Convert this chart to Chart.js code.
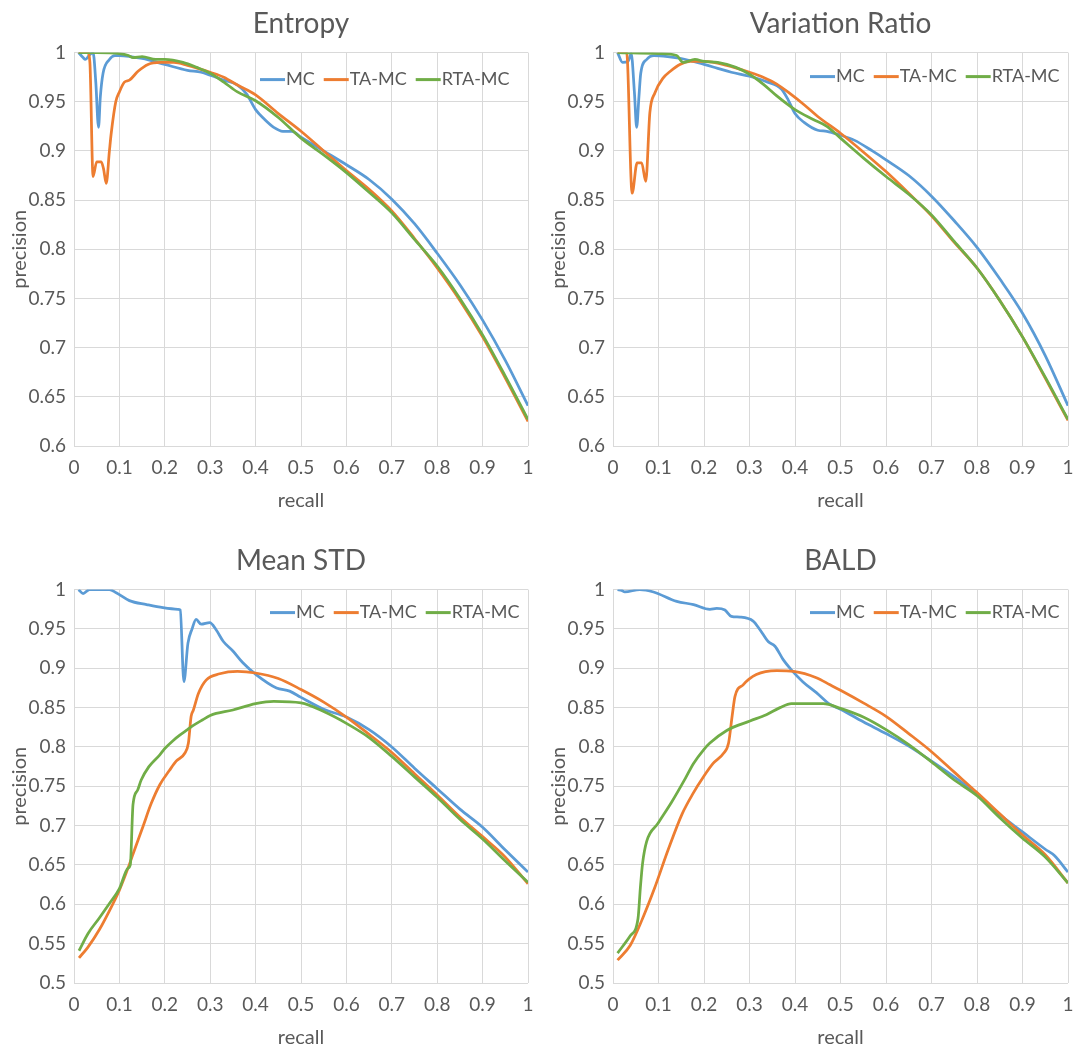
<!DOCTYPE html>
<html>
<head>
<meta charset="utf-8">
<title>precision / recall</title>
<script src="https://cdn.jsdelivr.net/npm/chart.js@4.4.1/dist/chart.umd.min.js"></script>
<style>
  body { margin: 0; background: #fff; }
  .panel { position: absolute; width: 539px; height: 516px; }
</style>
</head>
<body>
<div class="panel" style="left:0;top:0"><canvas id="chartEntropy"></canvas></div>
<div class="panel" style="left:539px;top:0;width:540px"><canvas id="chartVariation"></canvas></div>
<div class="panel" style="left:0;top:537px"><canvas id="chartMeanStd"></canvas></div>
<div class="panel" style="left:539px;top:537px;width:540px"><canvas id="chartBald"></canvas></div>
<script>
// series names + colours (same in every panel)
var seriesNames = ["MC", "TA-MC", "RTA-MC"];
var seriesColors = ["#5B9BD5", "#ED7D31", "#70AD47"];

// ---- Entropy ----
var entropyMcRecall = [0.01,0.02,0.025,0.035,0.042,0.048,0.054,0.058,0.064,0.078,0.09,0.1,0.15,0.2,0.25,0.28,0.3,0.33,0.36,0.38,0.4,0.42,0.44,0.46,0.48,0.5,0.55,0.6,0.65,0.7,0.75,0.8,0.85,0.9,0.95,1.0];
var entropyMcPrecision = [1.0,0.995,0.993,0.998,1.0,0.97,0.924,0.955,0.979,0.993,0.997,0.997,0.994,0.988,0.982,0.98,0.977,0.972,0.967,0.958,0.942,0.932,0.924,0.92,0.92,0.914,0.9,0.886,0.871,0.851,0.826,0.796,0.764,0.728,0.687,0.641];
var entropyTaRecall = [0.01,0.03,0.035,0.042,0.05,0.06,0.065,0.071,0.078,0.082,0.092,0.1,0.111,0.122,0.141,0.163,0.19,0.22,0.25,0.3,0.33,0.36,0.4,0.45,0.5,0.55,0.6,0.65,0.7,0.75,0.8,0.85,0.9,0.95,1.0];
var entropyTaPrecision = [1.0,1.0,0.99,0.874,0.889,0.889,0.882,0.867,0.9,0.918,0.95,0.96,0.97,0.972,0.981,0.988,0.99,0.99,0.987,0.98,0.975,0.967,0.957,0.938,0.92,0.9,0.88,0.861,0.839,0.811,0.781,0.748,0.711,0.669,0.625];
var entropyRtaRecall = [0.01,0.05,0.1,0.12,0.13,0.15,0.18,0.2,0.24,0.27,0.3,0.33,0.36,0.4,0.45,0.5,0.55,0.6,0.65,0.7,0.75,0.8,0.85,0.9,0.95,1.0];
var entropyRtaPrecision = [1.0,1.0,0.999,0.997,0.995,0.996,0.993,0.993,0.99,0.985,0.979,0.97,0.96,0.951,0.934,0.913,0.896,0.878,0.858,0.837,0.81,0.783,0.75,0.713,0.671,0.627];

// ---- Variation Ratio ----
var variationMcRecall = [0.01,0.021,0.033,0.04,0.047,0.052,0.057,0.061,0.074,0.09,0.12,0.15,0.2,0.23,0.26,0.3,0.34,0.37,0.385,0.4,0.42,0.45,0.47,0.5,0.53,0.57,0.6,0.65,0.7,0.75,0.8,0.85,0.9,0.95,1.0];
var variationMcPrecision = [1.0,0.99,0.991,0.999,0.96,0.924,0.955,0.979,0.993,0.997,0.996,0.994,0.988,0.984,0.98,0.976,0.97,0.963,0.952,0.938,0.929,0.921,0.92,0.916,0.911,0.9,0.891,0.875,0.854,0.829,0.802,0.77,0.735,0.692,0.641];
var variationTaRecall = [0.01,0.03,0.042,0.053,0.063,0.072,0.081,0.092,0.11,0.126,0.147,0.17,0.2,0.25,0.3,0.33,0.36,0.39,0.42,0.45,0.5,0.55,0.6,0.65,0.7,0.75,0.8,0.85,0.9,0.95,1.0];
var variationTaPrecision = [1.0,1.0,0.857,0.888,0.888,0.869,0.939,0.959,0.974,0.981,0.988,0.991,0.991,0.987,0.98,0.975,0.968,0.958,0.947,0.935,0.918,0.899,0.879,0.857,0.834,0.807,0.781,0.748,0.711,0.669,0.626];
var variationRtaRecall = [0.01,0.1,0.14,0.154,0.18,0.2,0.23,0.27,0.3,0.33,0.36,0.4,0.44,0.47,0.5,0.55,0.6,0.65,0.7,0.75,0.8,0.85,0.9,0.95,1.0];
var variationRtaPrecision = [1.0,0.999,0.997,0.99,0.993,0.991,0.99,0.985,0.978,0.968,0.956,0.942,0.932,0.925,0.913,0.893,0.874,0.856,0.835,0.808,0.781,0.748,0.711,0.67,0.627];

// ---- Mean STD ----
var meanStdMcRecall = [0.01,0.02,0.034,0.06,0.078,0.093,0.122,0.16,0.196,0.229,0.234,0.242,0.251,0.26,0.269,0.28,0.299,0.313,0.329,0.35,0.372,0.401,0.446,0.475,0.5,0.55,0.6,0.65,0.7,0.75,0.8,0.85,0.9,0.95,1.0];
var meanStdMcPrecision = [1.0,0.995,1.0,1.0,1.0,0.996,0.986,0.981,0.977,0.975,0.974,0.883,0.932,0.95,0.962,0.956,0.958,0.949,0.934,0.922,0.907,0.892,0.875,0.871,0.863,0.848,0.838,0.822,0.8,0.773,0.747,0.721,0.698,0.669,0.641];
var meanStdTaRecall = [0.011,0.03,0.056,0.086,0.1,0.119,0.135,0.152,0.17,0.189,0.21,0.225,0.244,0.252,0.258,0.263,0.274,0.291,0.321,0.36,0.4,0.45,0.5,0.55,0.6,0.65,0.7,0.75,0.8,0.85,0.9,0.95,1.0];
var meanStdTaPrecision = [0.532,0.545,0.568,0.601,0.618,0.646,0.672,0.699,0.728,0.752,0.77,0.782,0.792,0.805,0.839,0.847,0.868,0.885,0.893,0.896,0.894,0.887,0.873,0.857,0.838,0.816,0.793,0.766,0.739,0.711,0.686,0.66,0.626];
var meanStdRtaRecall = [0.011,0.031,0.055,0.078,0.1,0.119,0.124,0.13,0.14,0.148,0.165,0.189,0.2,0.218,0.233,0.25,0.262,0.285,0.3,0.35,0.4,0.44,0.5,0.55,0.6,0.65,0.7,0.75,0.8,0.85,0.9,0.95,1.0];
var meanStdRtaPrecision = [0.541,0.563,0.582,0.601,0.62,0.646,0.65,0.727,0.745,0.758,0.775,0.79,0.798,0.808,0.815,0.822,0.827,0.835,0.84,0.847,0.855,0.858,0.856,0.845,0.83,0.812,0.788,0.762,0.736,0.708,0.683,0.655,0.628];

// ---- BALD ----
var baldMcRecall = [0.01,0.019,0.026,0.059,0.089,0.14,0.177,0.213,0.228,0.246,0.26,0.279,0.308,0.323,0.341,0.356,0.374,0.392,0.417,0.447,0.477,0.5,0.55,0.6,0.65,0.7,0.75,0.8,0.85,0.9,0.95,0.97,1.0];
var baldMcPrecision = [1.0,0.999,0.997,1.0,0.997,0.985,0.981,0.975,0.976,0.974,0.966,0.965,0.96,0.949,0.934,0.928,0.911,0.898,0.883,0.869,0.854,0.848,0.832,0.817,0.801,0.782,0.762,0.74,0.714,0.692,0.67,0.662,0.641];
var baldTaRecall = [0.01,0.038,0.065,0.091,0.121,0.152,0.175,0.2,0.22,0.243,0.254,0.262,0.268,0.286,0.315,0.36,0.397,0.447,0.477,0.5,0.55,0.6,0.65,0.7,0.75,0.8,0.85,0.9,0.95,1.0];
var baldTaPrecision = [0.529,0.548,0.582,0.62,0.669,0.715,0.74,0.763,0.779,0.792,0.805,0.84,0.864,0.879,0.892,0.897,0.896,0.888,0.879,0.872,0.856,0.839,0.817,0.794,0.768,0.742,0.715,0.688,0.663,0.627];
var baldRtaRecall = [0.01,0.038,0.055,0.06,0.065,0.074,0.099,0.129,0.159,0.177,0.2,0.213,0.25,0.301,0.337,0.367,0.392,0.462,0.5,0.55,0.6,0.65,0.7,0.75,0.8,0.85,0.9,0.95,1.0];
var baldRtaPrecision = [0.538,0.56,0.582,0.62,0.652,0.68,0.703,0.73,0.76,0.779,0.797,0.805,0.821,0.833,0.841,0.85,0.855,0.855,0.849,0.838,0.822,0.803,0.781,0.758,0.738,0.71,0.684,0.66,0.627];

var textColor = "#595959";
var gridColor = "#d9d9d9";
var fontFamily = "Lato, 'Open Sans', sans-serif";

// legend drawn inside the plot, like the excel one
var insideLegend = {
  id: "insideLegend",
  afterDatasetsDraw: function (chart, args, opts) {
    var ctx = chart.ctx;
    var x = chart.chartArea.left + opts.offsetX;
    var y = chart.chartArea.top + opts.offsetY;
    ctx.save();
    ctx.font = "18px " + fontFamily;
    ctx.textBaseline = "middle";
    chart.data.datasets.forEach(function (ds) {
      ctx.strokeStyle = ds.borderColor;
      ctx.lineWidth = 3;
      ctx.beginPath();
      ctx.moveTo(x, y);
      ctx.lineTo(x + 25, y);
      ctx.stroke();
      x += 26;
      ctx.fillStyle = textColor;
      ctx.fillText(ds.label, x, y);
      x += ctx.measureText(ds.label).width + 9;
    });
    ctx.restore();
  },
};

function toPoints(xs, ys) {
  var pts = [];
  for (var i = 0; i < xs.length; i++) pts.push({ x: xs[i], y: ys[i] });
  return pts;
}

// excel style: 1, 0.95, 0.9 ... no trailing zeros
function shortLabel(value) {
  return String(Number(value.toFixed(2)));
}

function drawPanel(canvasId, title, yMin, series, legendX, legendY) {
  var datasets = [];
  for (var i = 0; i < series.length; i++) {
    datasets.push({
      label: seriesNames[i],
      data: toPoints(series[i][0], series[i][1]),
      borderColor: seriesColors[i],
      backgroundColor: seriesColors[i],
      borderWidth: 2.75,
      pointRadius: 0,
      cubicInterpolationMode: "monotone",
      order: 3 - i, // RTA-MC drawn last, on top
    });
  }
  return new Chart(document.getElementById(canvasId), {
    type: "line",
    data: { datasets: datasets },
    plugins: [insideLegend],
    options: {
      responsive: true,
      maintainAspectRatio: false,
      animation: false,
      layout: { padding: { left: 0, right: 11, top: 0, bottom: 0 } },
      plugins: {
        legend: { display: false },
        tooltip: { enabled: false },
        title: {
          display: true,
          text: title,
          fullSize: false,
          color: textColor,
          font: { family: fontFamily, size: 28, weight: "normal" },
          padding: { top: 7, bottom: 12 },
        },
        insideLegend: { offsetX: legendX, offsetY: legendY },
      },
      scales: {
        x: {
          type: "linear",
          min: 0,
          max: 1,
          ticks: {
            stepSize: 0.1,
            color: textColor,
            padding: 10,
            font: { family: fontFamily, size: 19 },
            callback: shortLabel,
          },
          grid: { color: gridColor, drawTicks: false },
          border: { display: false },
          title: {
            display: true,
            text: "recall",
            color: textColor,
            font: { family: fontFamily, size: 20 },
            padding: { top: 0, bottom: 3 },
          },
          afterFit: function (scale) {
            scale.height = 70;
            // don't let the end labels shrink the plot, layout padding handles it
            scale.paddingLeft = 0;
            scale.paddingRight = 0;
          },
        },
        y: {
          min: yMin,
          max: 1,
          ticks: {
            stepSize: 0.05,
            color: textColor,
            padding: 8,
            font: { family: fontFamily, size: 19 },
            callback: shortLabel,
          },
          grid: { color: gridColor, drawTicks: false },
          border: { display: false },
          title: {
            display: true,
            text: "precision",
            color: textColor,
            font: { family: fontFamily, size: 20 },
            padding: { top: 8, bottom: 0 },
          },
          afterFit: function (scale) { scale.width = 74; },
        },
      },
    },
  });
}

drawPanel("chartEntropy", "Entropy", 0.6, [
  [entropyMcRecall, entropyMcPrecision],
  [entropyTaRecall, entropyTaPrecision],
  [entropyRtaRecall, entropyRtaPrecision],
], 186, 27);

drawPanel("chartVariation", "Variation Ratio", 0.6, [
  [variationMcRecall, variationMcPrecision],
  [variationTaRecall, variationTaPrecision],
  [variationRtaRecall, variationRtaPrecision],
], 197, 24);

drawPanel("chartMeanStd", "Mean STD", 0.5, [
  [meanStdMcRecall, meanStdMcPrecision],
  [meanStdTaRecall, meanStdTaPrecision],
  [meanStdRtaRecall, meanStdRtaPrecision],
], 196, 23);

drawPanel("chartBald", "BALD", 0.5, [
  [baldMcRecall, baldMcPrecision],
  [baldTaRecall, baldTaPrecision],
  [baldRtaRecall, baldRtaPrecision],
], 197, 23);
</script>
</body>
</html>
